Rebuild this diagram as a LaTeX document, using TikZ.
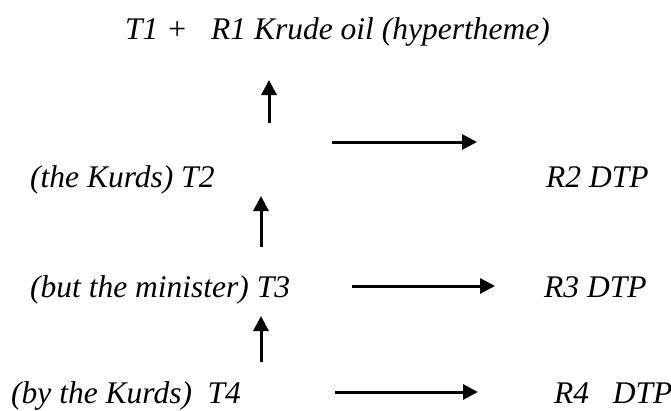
\documentclass[tikz,border=0pt]{standalone}
\usepackage{fontspec}
\setmainfont{Liberation Serif}
\usetikzlibrary{arrows.meta}
\begin{document}
\begin{tikzpicture}[x=1pt,y=-1pt,
  lbl/.style={anchor=base west,inner sep=0pt,font=\fontsize{31.5}{38}\selectfont\itshape},
  flow/.style={line width=3pt,-{Triangle[length=15pt,width=15pt]}}]
\useasboundingbox (0,0) rectangle (671,410);
% theme and rheme labels
\node[lbl] (t1) at (125,39) {T1 +\ \ \ R1 Krude oil (hypertheme)};
\node[lbl] (t2) at (30,187) {(the Kurds) T2};
\node[lbl] (r2) at (546,187) {R2 DTP};
\node[lbl] (t3) at (30,297) {(but the minister) T3};
\node[lbl] (r3) at (544,297) {R3 DTP};
\node[lbl] (t4) at (11,403) {(by the Kurds)\ \ T4};
\node[lbl] (r4) at (554,403) {R4\ \ \ DTP};
% arrow end points
\coordinate (u1a) at (269,123); \coordinate (u1b) at (269,80);
\coordinate (u2a) at (261,247); \coordinate (u2b) at (261,196);
\coordinate (u3a) at (261,362); \coordinate (u3b) at (261,316);
\coordinate (h1a) at (332,142); \coordinate (h1b) at (477,142);
\coordinate (h3a) at (352,286); \coordinate (h3b) at (495,286);
\coordinate (h4a) at (335,392); \coordinate (h4b) at (478,392);
% connectors
\draw[flow] (u1a) -- (u1b);
\draw[flow] (u2a) -- (u2b);
\draw[flow] (u3a) -- (u3b);
\draw[flow] (h1a) -- (h1b);
\draw[flow] (h3a) -- (h3b);
\draw[flow] (h4a) -- (h4b);
\end{tikzpicture}
\end{document}
